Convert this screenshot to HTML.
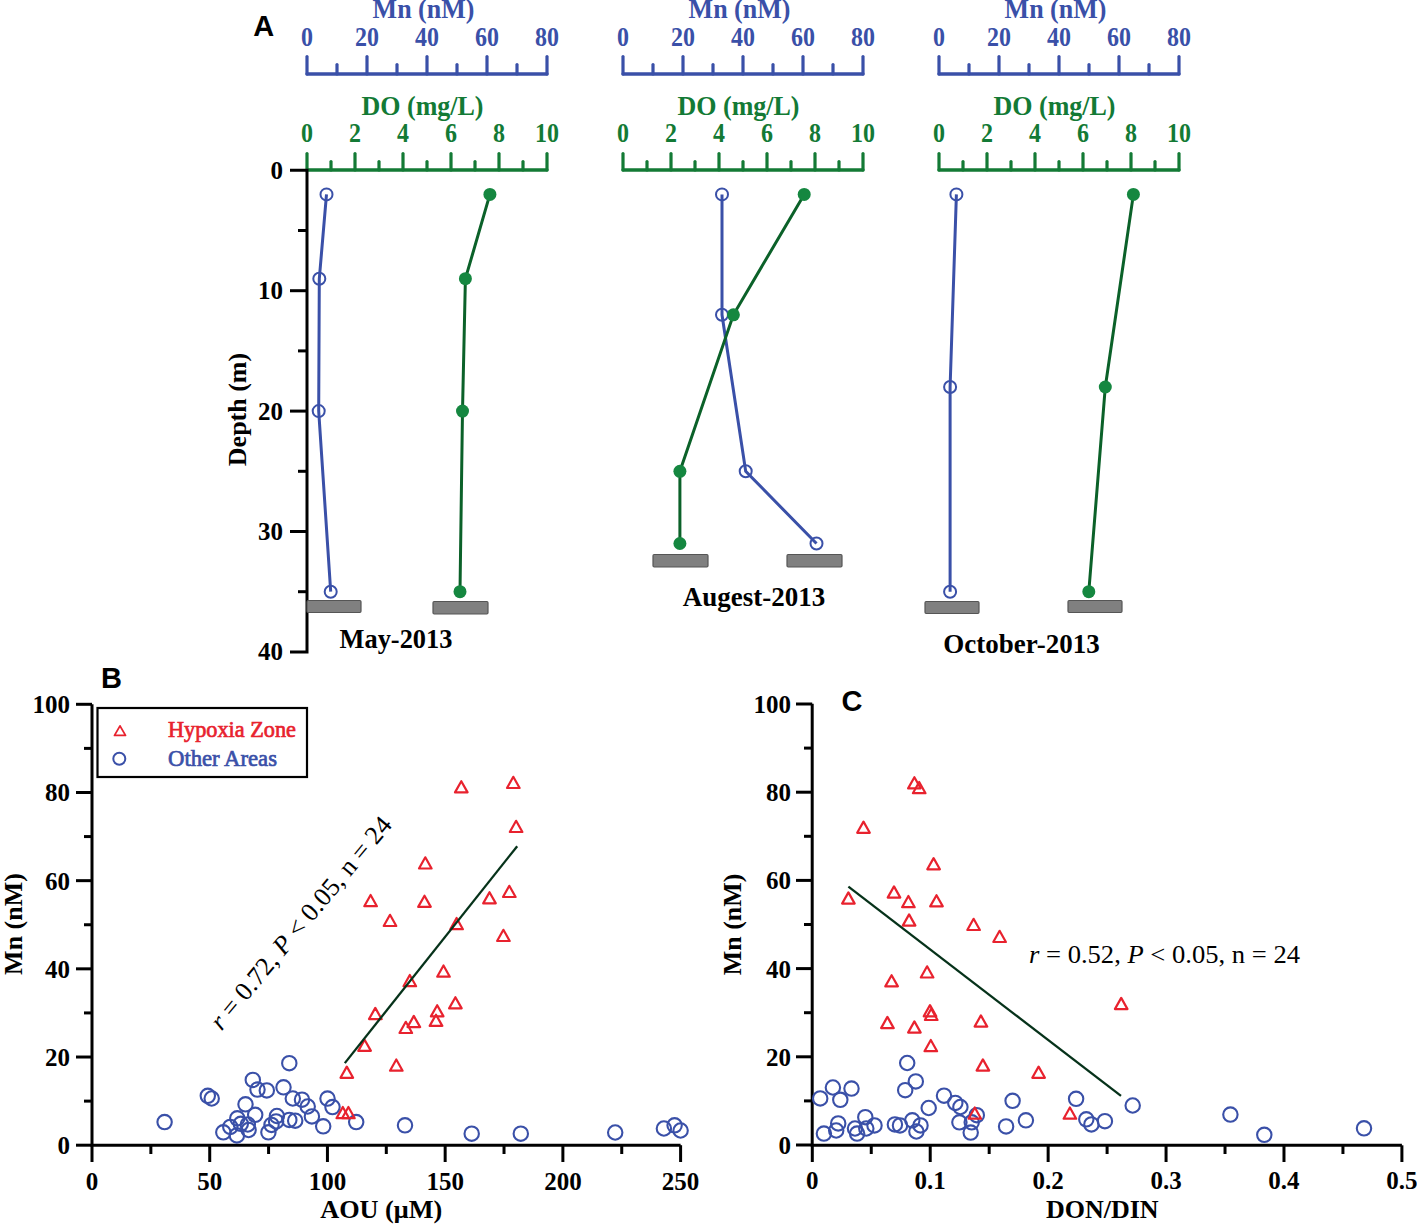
<!DOCTYPE html>
<html><head><meta charset="utf-8"><style>
html,body{margin:0;padding:0;background:#fff;}
body{width:1417px;height:1226px;overflow:hidden;}
svg{display:block;}
</style></head><body>
<svg width="1417" height="1226" viewBox="0 0 1417 1226">
<rect width="1417" height="1226" fill="#fff"/>
<path d="M307,74.0 L547,74.0" stroke="#3a50a8" stroke-width="3.3" fill="none" stroke-linecap="round"/>
<line x1="307" y1="74.0" x2="307" y2="56.5" stroke="#3a50a8" stroke-width="3.2" stroke-linecap="round"/>
<line x1="337" y1="74.0" x2="337" y2="64.5" stroke="#3a50a8" stroke-width="3.2" stroke-linecap="round"/>
<line x1="367" y1="74.0" x2="367" y2="56.5" stroke="#3a50a8" stroke-width="3.2" stroke-linecap="round"/>
<line x1="397" y1="74.0" x2="397" y2="64.5" stroke="#3a50a8" stroke-width="3.2" stroke-linecap="round"/>
<line x1="427" y1="74.0" x2="427" y2="56.5" stroke="#3a50a8" stroke-width="3.2" stroke-linecap="round"/>
<line x1="457" y1="74.0" x2="457" y2="64.5" stroke="#3a50a8" stroke-width="3.2" stroke-linecap="round"/>
<line x1="487" y1="74.0" x2="487" y2="56.5" stroke="#3a50a8" stroke-width="3.2" stroke-linecap="round"/>
<line x1="517" y1="74.0" x2="517" y2="64.5" stroke="#3a50a8" stroke-width="3.2" stroke-linecap="round"/>
<line x1="547" y1="74.0" x2="547" y2="56.5" stroke="#3a50a8" stroke-width="3.2" stroke-linecap="round"/>
<text transform="translate(307 45.8) scale(1 1.12)" x="0" y="0" font-size="24" fill="#3a50a8" text-anchor="middle" style="font-family:'Liberation Serif',serif;font-weight:bold" >0</text>
<text transform="translate(367 45.8) scale(1 1.12)" x="0" y="0" font-size="24" fill="#3a50a8" text-anchor="middle" style="font-family:'Liberation Serif',serif;font-weight:bold" >20</text>
<text transform="translate(427 45.8) scale(1 1.12)" x="0" y="0" font-size="24" fill="#3a50a8" text-anchor="middle" style="font-family:'Liberation Serif',serif;font-weight:bold" >40</text>
<text transform="translate(487 45.8) scale(1 1.12)" x="0" y="0" font-size="24" fill="#3a50a8" text-anchor="middle" style="font-family:'Liberation Serif',serif;font-weight:bold" >60</text>
<text transform="translate(547 45.8) scale(1 1.12)" x="0" y="0" font-size="24" fill="#3a50a8" text-anchor="middle" style="font-family:'Liberation Serif',serif;font-weight:bold" >80</text>
<text transform="translate(423.5 18.2) scale(1 1.07)" x="0" y="0" font-size="26" fill="#3a50a8" text-anchor="middle" style="font-family:'Liberation Serif',serif;font-weight:bold" >Mn (nM)</text>
<path d="M307,170.0 L547,170.0" stroke="#137a35" stroke-width="3.3" fill="none" stroke-linecap="round"/>
<line x1="307" y1="170.0" x2="307" y2="153.5" stroke="#137a35" stroke-width="3.2" stroke-linecap="round"/>
<line x1="331" y1="170.0" x2="331" y2="161.5" stroke="#137a35" stroke-width="3.2" stroke-linecap="round"/>
<line x1="355" y1="170.0" x2="355" y2="153.5" stroke="#137a35" stroke-width="3.2" stroke-linecap="round"/>
<line x1="379" y1="170.0" x2="379" y2="161.5" stroke="#137a35" stroke-width="3.2" stroke-linecap="round"/>
<line x1="403" y1="170.0" x2="403" y2="153.5" stroke="#137a35" stroke-width="3.2" stroke-linecap="round"/>
<line x1="427" y1="170.0" x2="427" y2="161.5" stroke="#137a35" stroke-width="3.2" stroke-linecap="round"/>
<line x1="451" y1="170.0" x2="451" y2="153.5" stroke="#137a35" stroke-width="3.2" stroke-linecap="round"/>
<line x1="475" y1="170.0" x2="475" y2="161.5" stroke="#137a35" stroke-width="3.2" stroke-linecap="round"/>
<line x1="499" y1="170.0" x2="499" y2="153.5" stroke="#137a35" stroke-width="3.2" stroke-linecap="round"/>
<line x1="523" y1="170.0" x2="523" y2="161.5" stroke="#137a35" stroke-width="3.2" stroke-linecap="round"/>
<line x1="547" y1="170.0" x2="547" y2="153.5" stroke="#137a35" stroke-width="3.2" stroke-linecap="round"/>
<text transform="translate(307 141.6) scale(1 1.12)" x="0" y="0" font-size="24" fill="#137a35" text-anchor="middle" style="font-family:'Liberation Serif',serif;font-weight:bold" >0</text>
<text transform="translate(355 141.6) scale(1 1.12)" x="0" y="0" font-size="24" fill="#137a35" text-anchor="middle" style="font-family:'Liberation Serif',serif;font-weight:bold" >2</text>
<text transform="translate(403 141.6) scale(1 1.12)" x="0" y="0" font-size="24" fill="#137a35" text-anchor="middle" style="font-family:'Liberation Serif',serif;font-weight:bold" >4</text>
<text transform="translate(451 141.6) scale(1 1.12)" x="0" y="0" font-size="24" fill="#137a35" text-anchor="middle" style="font-family:'Liberation Serif',serif;font-weight:bold" >6</text>
<text transform="translate(499 141.6) scale(1 1.12)" x="0" y="0" font-size="24" fill="#137a35" text-anchor="middle" style="font-family:'Liberation Serif',serif;font-weight:bold" >8</text>
<text transform="translate(547 141.6) scale(1 1.12)" x="0" y="0" font-size="24" fill="#137a35" text-anchor="middle" style="font-family:'Liberation Serif',serif;font-weight:bold" >10</text>
<text transform="translate(422.5 114.7) scale(1 1.07)" x="0" y="0" font-size="26" fill="#137a35" text-anchor="middle" style="font-family:'Liberation Serif',serif;font-weight:bold" >DO (mg/L)</text>
<path d="M623,74.0 L863,74.0" stroke="#3a50a8" stroke-width="3.3" fill="none" stroke-linecap="round"/>
<line x1="623" y1="74.0" x2="623" y2="56.5" stroke="#3a50a8" stroke-width="3.2" stroke-linecap="round"/>
<line x1="653" y1="74.0" x2="653" y2="64.5" stroke="#3a50a8" stroke-width="3.2" stroke-linecap="round"/>
<line x1="683" y1="74.0" x2="683" y2="56.5" stroke="#3a50a8" stroke-width="3.2" stroke-linecap="round"/>
<line x1="713" y1="74.0" x2="713" y2="64.5" stroke="#3a50a8" stroke-width="3.2" stroke-linecap="round"/>
<line x1="743" y1="74.0" x2="743" y2="56.5" stroke="#3a50a8" stroke-width="3.2" stroke-linecap="round"/>
<line x1="773" y1="74.0" x2="773" y2="64.5" stroke="#3a50a8" stroke-width="3.2" stroke-linecap="round"/>
<line x1="803" y1="74.0" x2="803" y2="56.5" stroke="#3a50a8" stroke-width="3.2" stroke-linecap="round"/>
<line x1="833" y1="74.0" x2="833" y2="64.5" stroke="#3a50a8" stroke-width="3.2" stroke-linecap="round"/>
<line x1="863" y1="74.0" x2="863" y2="56.5" stroke="#3a50a8" stroke-width="3.2" stroke-linecap="round"/>
<text transform="translate(623 45.8) scale(1 1.12)" x="0" y="0" font-size="24" fill="#3a50a8" text-anchor="middle" style="font-family:'Liberation Serif',serif;font-weight:bold" >0</text>
<text transform="translate(683 45.8) scale(1 1.12)" x="0" y="0" font-size="24" fill="#3a50a8" text-anchor="middle" style="font-family:'Liberation Serif',serif;font-weight:bold" >20</text>
<text transform="translate(743 45.8) scale(1 1.12)" x="0" y="0" font-size="24" fill="#3a50a8" text-anchor="middle" style="font-family:'Liberation Serif',serif;font-weight:bold" >40</text>
<text transform="translate(803 45.8) scale(1 1.12)" x="0" y="0" font-size="24" fill="#3a50a8" text-anchor="middle" style="font-family:'Liberation Serif',serif;font-weight:bold" >60</text>
<text transform="translate(863 45.8) scale(1 1.12)" x="0" y="0" font-size="24" fill="#3a50a8" text-anchor="middle" style="font-family:'Liberation Serif',serif;font-weight:bold" >80</text>
<text transform="translate(739.5 18.2) scale(1 1.07)" x="0" y="0" font-size="26" fill="#3a50a8" text-anchor="middle" style="font-family:'Liberation Serif',serif;font-weight:bold" >Mn (nM)</text>
<path d="M623,170.0 L863,170.0" stroke="#137a35" stroke-width="3.3" fill="none" stroke-linecap="round"/>
<line x1="623" y1="170.0" x2="623" y2="153.5" stroke="#137a35" stroke-width="3.2" stroke-linecap="round"/>
<line x1="647" y1="170.0" x2="647" y2="161.5" stroke="#137a35" stroke-width="3.2" stroke-linecap="round"/>
<line x1="671" y1="170.0" x2="671" y2="153.5" stroke="#137a35" stroke-width="3.2" stroke-linecap="round"/>
<line x1="695" y1="170.0" x2="695" y2="161.5" stroke="#137a35" stroke-width="3.2" stroke-linecap="round"/>
<line x1="719" y1="170.0" x2="719" y2="153.5" stroke="#137a35" stroke-width="3.2" stroke-linecap="round"/>
<line x1="743" y1="170.0" x2="743" y2="161.5" stroke="#137a35" stroke-width="3.2" stroke-linecap="round"/>
<line x1="767" y1="170.0" x2="767" y2="153.5" stroke="#137a35" stroke-width="3.2" stroke-linecap="round"/>
<line x1="791" y1="170.0" x2="791" y2="161.5" stroke="#137a35" stroke-width="3.2" stroke-linecap="round"/>
<line x1="815" y1="170.0" x2="815" y2="153.5" stroke="#137a35" stroke-width="3.2" stroke-linecap="round"/>
<line x1="839" y1="170.0" x2="839" y2="161.5" stroke="#137a35" stroke-width="3.2" stroke-linecap="round"/>
<line x1="863" y1="170.0" x2="863" y2="153.5" stroke="#137a35" stroke-width="3.2" stroke-linecap="round"/>
<text transform="translate(623 141.6) scale(1 1.12)" x="0" y="0" font-size="24" fill="#137a35" text-anchor="middle" style="font-family:'Liberation Serif',serif;font-weight:bold" >0</text>
<text transform="translate(671 141.6) scale(1 1.12)" x="0" y="0" font-size="24" fill="#137a35" text-anchor="middle" style="font-family:'Liberation Serif',serif;font-weight:bold" >2</text>
<text transform="translate(719 141.6) scale(1 1.12)" x="0" y="0" font-size="24" fill="#137a35" text-anchor="middle" style="font-family:'Liberation Serif',serif;font-weight:bold" >4</text>
<text transform="translate(767 141.6) scale(1 1.12)" x="0" y="0" font-size="24" fill="#137a35" text-anchor="middle" style="font-family:'Liberation Serif',serif;font-weight:bold" >6</text>
<text transform="translate(815 141.6) scale(1 1.12)" x="0" y="0" font-size="24" fill="#137a35" text-anchor="middle" style="font-family:'Liberation Serif',serif;font-weight:bold" >8</text>
<text transform="translate(863 141.6) scale(1 1.12)" x="0" y="0" font-size="24" fill="#137a35" text-anchor="middle" style="font-family:'Liberation Serif',serif;font-weight:bold" >10</text>
<text transform="translate(738.5 114.7) scale(1 1.07)" x="0" y="0" font-size="26" fill="#137a35" text-anchor="middle" style="font-family:'Liberation Serif',serif;font-weight:bold" >DO (mg/L)</text>
<path d="M939,74.0 L1179,74.0" stroke="#3a50a8" stroke-width="3.3" fill="none" stroke-linecap="round"/>
<line x1="939" y1="74.0" x2="939" y2="56.5" stroke="#3a50a8" stroke-width="3.2" stroke-linecap="round"/>
<line x1="969" y1="74.0" x2="969" y2="64.5" stroke="#3a50a8" stroke-width="3.2" stroke-linecap="round"/>
<line x1="999" y1="74.0" x2="999" y2="56.5" stroke="#3a50a8" stroke-width="3.2" stroke-linecap="round"/>
<line x1="1029" y1="74.0" x2="1029" y2="64.5" stroke="#3a50a8" stroke-width="3.2" stroke-linecap="round"/>
<line x1="1059" y1="74.0" x2="1059" y2="56.5" stroke="#3a50a8" stroke-width="3.2" stroke-linecap="round"/>
<line x1="1089" y1="74.0" x2="1089" y2="64.5" stroke="#3a50a8" stroke-width="3.2" stroke-linecap="round"/>
<line x1="1119" y1="74.0" x2="1119" y2="56.5" stroke="#3a50a8" stroke-width="3.2" stroke-linecap="round"/>
<line x1="1149" y1="74.0" x2="1149" y2="64.5" stroke="#3a50a8" stroke-width="3.2" stroke-linecap="round"/>
<line x1="1179" y1="74.0" x2="1179" y2="56.5" stroke="#3a50a8" stroke-width="3.2" stroke-linecap="round"/>
<text transform="translate(939 45.8) scale(1 1.12)" x="0" y="0" font-size="24" fill="#3a50a8" text-anchor="middle" style="font-family:'Liberation Serif',serif;font-weight:bold" >0</text>
<text transform="translate(999 45.8) scale(1 1.12)" x="0" y="0" font-size="24" fill="#3a50a8" text-anchor="middle" style="font-family:'Liberation Serif',serif;font-weight:bold" >20</text>
<text transform="translate(1059 45.8) scale(1 1.12)" x="0" y="0" font-size="24" fill="#3a50a8" text-anchor="middle" style="font-family:'Liberation Serif',serif;font-weight:bold" >40</text>
<text transform="translate(1119 45.8) scale(1 1.12)" x="0" y="0" font-size="24" fill="#3a50a8" text-anchor="middle" style="font-family:'Liberation Serif',serif;font-weight:bold" >60</text>
<text transform="translate(1179 45.8) scale(1 1.12)" x="0" y="0" font-size="24" fill="#3a50a8" text-anchor="middle" style="font-family:'Liberation Serif',serif;font-weight:bold" >80</text>
<text transform="translate(1055.5 18.2) scale(1 1.07)" x="0" y="0" font-size="26" fill="#3a50a8" text-anchor="middle" style="font-family:'Liberation Serif',serif;font-weight:bold" >Mn (nM)</text>
<path d="M939,170.0 L1179,170.0" stroke="#137a35" stroke-width="3.3" fill="none" stroke-linecap="round"/>
<line x1="939" y1="170.0" x2="939" y2="153.5" stroke="#137a35" stroke-width="3.2" stroke-linecap="round"/>
<line x1="963" y1="170.0" x2="963" y2="161.5" stroke="#137a35" stroke-width="3.2" stroke-linecap="round"/>
<line x1="987" y1="170.0" x2="987" y2="153.5" stroke="#137a35" stroke-width="3.2" stroke-linecap="round"/>
<line x1="1011" y1="170.0" x2="1011" y2="161.5" stroke="#137a35" stroke-width="3.2" stroke-linecap="round"/>
<line x1="1035" y1="170.0" x2="1035" y2="153.5" stroke="#137a35" stroke-width="3.2" stroke-linecap="round"/>
<line x1="1059" y1="170.0" x2="1059" y2="161.5" stroke="#137a35" stroke-width="3.2" stroke-linecap="round"/>
<line x1="1083" y1="170.0" x2="1083" y2="153.5" stroke="#137a35" stroke-width="3.2" stroke-linecap="round"/>
<line x1="1107" y1="170.0" x2="1107" y2="161.5" stroke="#137a35" stroke-width="3.2" stroke-linecap="round"/>
<line x1="1131" y1="170.0" x2="1131" y2="153.5" stroke="#137a35" stroke-width="3.2" stroke-linecap="round"/>
<line x1="1155" y1="170.0" x2="1155" y2="161.5" stroke="#137a35" stroke-width="3.2" stroke-linecap="round"/>
<line x1="1179" y1="170.0" x2="1179" y2="153.5" stroke="#137a35" stroke-width="3.2" stroke-linecap="round"/>
<text transform="translate(939 141.6) scale(1 1.12)" x="0" y="0" font-size="24" fill="#137a35" text-anchor="middle" style="font-family:'Liberation Serif',serif;font-weight:bold" >0</text>
<text transform="translate(987 141.6) scale(1 1.12)" x="0" y="0" font-size="24" fill="#137a35" text-anchor="middle" style="font-family:'Liberation Serif',serif;font-weight:bold" >2</text>
<text transform="translate(1035 141.6) scale(1 1.12)" x="0" y="0" font-size="24" fill="#137a35" text-anchor="middle" style="font-family:'Liberation Serif',serif;font-weight:bold" >4</text>
<text transform="translate(1083 141.6) scale(1 1.12)" x="0" y="0" font-size="24" fill="#137a35" text-anchor="middle" style="font-family:'Liberation Serif',serif;font-weight:bold" >6</text>
<text transform="translate(1131 141.6) scale(1 1.12)" x="0" y="0" font-size="24" fill="#137a35" text-anchor="middle" style="font-family:'Liberation Serif',serif;font-weight:bold" >8</text>
<text transform="translate(1179 141.6) scale(1 1.12)" x="0" y="0" font-size="24" fill="#137a35" text-anchor="middle" style="font-family:'Liberation Serif',serif;font-weight:bold" >10</text>
<text transform="translate(1054.5 114.7) scale(1 1.07)" x="0" y="0" font-size="26" fill="#137a35" text-anchor="middle" style="font-family:'Liberation Serif',serif;font-weight:bold" >DO (mg/L)</text>
<path d="M290,170.3 L307,170.3 L307,651.9 L290,651.9" stroke="#000" stroke-width="3.0" fill="none"/>
<line x1="290" y1="290.7" x2="307" y2="290.7" stroke="#000" stroke-width="3.0" stroke-linecap="butt"/>
<line x1="290" y1="411.1" x2="307" y2="411.1" stroke="#000" stroke-width="3.0" stroke-linecap="butt"/>
<line x1="290" y1="531.5" x2="307" y2="531.5" stroke="#000" stroke-width="3.0" stroke-linecap="butt"/>
<line x1="298" y1="230.5" x2="307" y2="230.5" stroke="#000" stroke-width="3.0" stroke-linecap="butt"/>
<line x1="298" y1="350.9" x2="307" y2="350.9" stroke="#000" stroke-width="3.0" stroke-linecap="butt"/>
<line x1="298" y1="471.3" x2="307" y2="471.3" stroke="#000" stroke-width="3.0" stroke-linecap="butt"/>
<line x1="298" y1="591.7" x2="307" y2="591.7" stroke="#000" stroke-width="3.0" stroke-linecap="butt"/>
<text x="283" y="178.8" font-size="25" fill="#000" text-anchor="end" style="font-family:'Liberation Serif',serif;font-weight:bold" >0</text>
<text x="283" y="299.2" font-size="25" fill="#000" text-anchor="end" style="font-family:'Liberation Serif',serif;font-weight:bold" >10</text>
<text x="283" y="419.6" font-size="25" fill="#000" text-anchor="end" style="font-family:'Liberation Serif',serif;font-weight:bold" >20</text>
<text x="283" y="540.0" font-size="25" fill="#000" text-anchor="end" style="font-family:'Liberation Serif',serif;font-weight:bold" >30</text>
<text x="283" y="660.4" font-size="25" fill="#000" text-anchor="end" style="font-family:'Liberation Serif',serif;font-weight:bold" >40</text>
<text x="246" y="409.5" font-size="26" fill="#000" text-anchor="middle" style="font-family:'Liberation Serif',serif;font-weight:bold" transform="rotate(-90 246 409.5)">Depth (m)</text>
<text x="263.7" y="35.9" font-size="29" fill="#000" text-anchor="middle" style="font-family:'Liberation Sans',sans-serif;font-weight:bold" >A</text>
<polyline points="326.5,194.4 319.3,278.7 318.7,411.1 330.7,591.7" fill="none" stroke="#3a50a8" stroke-width="3"/>
<polyline points="489.9,194.4 465.4,278.7 462.5,411.1 460.0,591.7" fill="none" stroke="#0b6129" stroke-width="3"/>
<circle cx="326.5" cy="194.4" r="6" fill="#fff" fill-opacity="0" stroke="#3a50a8" stroke-width="2"/>
<circle cx="319.3" cy="278.7" r="6" fill="#fff" fill-opacity="0" stroke="#3a50a8" stroke-width="2"/>
<circle cx="318.7" cy="411.1" r="6" fill="#fff" fill-opacity="0" stroke="#3a50a8" stroke-width="2"/>
<circle cx="330.7" cy="591.7" r="6" fill="#fff" fill-opacity="0" stroke="#3a50a8" stroke-width="2"/>
<circle cx="489.9" cy="194.4" r="6.5" fill="#158740"/>
<circle cx="465.4" cy="278.7" r="6.5" fill="#158740"/>
<circle cx="462.5" cy="411.1" r="6.5" fill="#158740"/>
<circle cx="460.0" cy="591.7" r="6.5" fill="#158740"/>
<polyline points="722.0,194.4 722.0,314.8 745.7,471.3 816.5,543.5" fill="none" stroke="#3a50a8" stroke-width="3"/>
<polyline points="804.2,194.4 733.4,314.8 679.9,471.3 679.9,543.5" fill="none" stroke="#0b6129" stroke-width="3"/>
<circle cx="722.0" cy="194.4" r="6" fill="#fff" fill-opacity="0" stroke="#3a50a8" stroke-width="2"/>
<circle cx="722.0" cy="314.8" r="6" fill="#fff" fill-opacity="0" stroke="#3a50a8" stroke-width="2"/>
<circle cx="745.7" cy="471.3" r="6" fill="#fff" fill-opacity="0" stroke="#3a50a8" stroke-width="2"/>
<circle cx="816.5" cy="543.5" r="6" fill="#fff" fill-opacity="0" stroke="#3a50a8" stroke-width="2"/>
<circle cx="804.2" cy="194.4" r="6.5" fill="#158740"/>
<circle cx="733.4" cy="314.8" r="6.5" fill="#158740"/>
<circle cx="679.9" cy="471.3" r="6.5" fill="#158740"/>
<circle cx="679.9" cy="543.5" r="6.5" fill="#158740"/>
<polyline points="956.4,194.4 950.1,387.0 950.1,591.7" fill="none" stroke="#3a50a8" stroke-width="3"/>
<polyline points="1133.4,194.4 1105.3,387.0 1088.8,591.7" fill="none" stroke="#0b6129" stroke-width="3"/>
<circle cx="956.4" cy="194.4" r="6" fill="#fff" fill-opacity="0" stroke="#3a50a8" stroke-width="2"/>
<circle cx="950.1" cy="387.0" r="6" fill="#fff" fill-opacity="0" stroke="#3a50a8" stroke-width="2"/>
<circle cx="950.1" cy="591.7" r="6" fill="#fff" fill-opacity="0" stroke="#3a50a8" stroke-width="2"/>
<circle cx="1133.4" cy="194.4" r="6.5" fill="#158740"/>
<circle cx="1105.3" cy="387.0" r="6.5" fill="#158740"/>
<circle cx="1088.8" cy="591.7" r="6.5" fill="#158740"/>
<rect x="307" y="600.5" width="54" height="12.0" rx="1.2" fill="#808080" stroke="#555" stroke-width="1.2"/>
<rect x="433" y="601.5" width="55" height="12.5" rx="1.2" fill="#808080" stroke="#555" stroke-width="1.2"/>
<rect x="653" y="554.5" width="55" height="12.5" rx="1.2" fill="#808080" stroke="#555" stroke-width="1.2"/>
<rect x="787" y="554.5" width="55" height="12.5" rx="1.2" fill="#808080" stroke="#555" stroke-width="1.2"/>
<rect x="925" y="601.5" width="54" height="12.0" rx="1.2" fill="#808080" stroke="#555" stroke-width="1.2"/>
<rect x="1068" y="600.5" width="54" height="12.0" rx="1.2" fill="#808080" stroke="#555" stroke-width="1.2"/>
<text x="396" y="647.5" font-size="26.4" fill="#000" text-anchor="middle" style="font-family:'Liberation Serif',serif;font-weight:bold" >May-2013</text>
<text x="754" y="605.5" font-size="27" fill="#000" text-anchor="middle" style="font-family:'Liberation Serif',serif;font-weight:bold" >Augest-2013</text>
<text x="1021.5" y="652.5" font-size="27" fill="#000" text-anchor="middle" style="font-family:'Liberation Serif',serif;font-weight:bold" >October-2013</text>
<path d="M92,704.3 L92,1145.2 L680.6,1145.2" stroke="#000" stroke-width="3.0" fill="none"/>
<line x1="76" y1="1145.2" x2="92" y2="1145.2" stroke="#000" stroke-width="3.0" stroke-linecap="butt"/>
<text x="70" y="1154.2" font-size="25" fill="#000" text-anchor="end" style="font-family:'Liberation Serif',serif;font-weight:bold" >0</text>
<line x1="76" y1="1057.02" x2="92" y2="1057.02" stroke="#000" stroke-width="3.0" stroke-linecap="butt"/>
<text x="70" y="1066.02" font-size="25" fill="#000" text-anchor="end" style="font-family:'Liberation Serif',serif;font-weight:bold" >20</text>
<line x1="76" y1="968.84" x2="92" y2="968.84" stroke="#000" stroke-width="3.0" stroke-linecap="butt"/>
<text x="70" y="977.84" font-size="25" fill="#000" text-anchor="end" style="font-family:'Liberation Serif',serif;font-weight:bold" >40</text>
<line x1="76" y1="880.6600000000001" x2="92" y2="880.6600000000001" stroke="#000" stroke-width="3.0" stroke-linecap="butt"/>
<text x="70" y="889.6600000000001" font-size="25" fill="#000" text-anchor="end" style="font-family:'Liberation Serif',serif;font-weight:bold" >60</text>
<line x1="76" y1="792.48" x2="92" y2="792.48" stroke="#000" stroke-width="3.0" stroke-linecap="butt"/>
<text x="70" y="801.48" font-size="25" fill="#000" text-anchor="end" style="font-family:'Liberation Serif',serif;font-weight:bold" >80</text>
<line x1="76" y1="704.3000000000001" x2="92" y2="704.3000000000001" stroke="#000" stroke-width="3.0" stroke-linecap="butt"/>
<text x="70" y="713.3000000000001" font-size="25" fill="#000" text-anchor="end" style="font-family:'Liberation Serif',serif;font-weight:bold" >100</text>
<line x1="84" y1="1101.1100000000001" x2="92" y2="1101.1100000000001" stroke="#000" stroke-width="3.0" stroke-linecap="butt"/>
<line x1="84" y1="1012.9300000000001" x2="92" y2="1012.9300000000001" stroke="#000" stroke-width="3.0" stroke-linecap="butt"/>
<line x1="84" y1="924.75" x2="92" y2="924.75" stroke="#000" stroke-width="3.0" stroke-linecap="butt"/>
<line x1="84" y1="836.57" x2="92" y2="836.57" stroke="#000" stroke-width="3.0" stroke-linecap="butt"/>
<line x1="84" y1="748.3900000000001" x2="92" y2="748.3900000000001" stroke="#000" stroke-width="3.0" stroke-linecap="butt"/>
<line x1="92.0" y1="1145.2" x2="92.0" y2="1162" stroke="#000" stroke-width="3.0" stroke-linecap="butt"/>
<text x="92.0" y="1190" font-size="25" fill="#000" text-anchor="middle" style="font-family:'Liberation Serif',serif;font-weight:bold" >0</text>
<line x1="209.72" y1="1145.2" x2="209.72" y2="1162" stroke="#000" stroke-width="3.0" stroke-linecap="butt"/>
<text x="209.72" y="1190" font-size="25" fill="#000" text-anchor="middle" style="font-family:'Liberation Serif',serif;font-weight:bold" >50</text>
<line x1="327.44" y1="1145.2" x2="327.44" y2="1162" stroke="#000" stroke-width="3.0" stroke-linecap="butt"/>
<text x="327.44" y="1190" font-size="25" fill="#000" text-anchor="middle" style="font-family:'Liberation Serif',serif;font-weight:bold" >100</text>
<line x1="445.16" y1="1145.2" x2="445.16" y2="1162" stroke="#000" stroke-width="3.0" stroke-linecap="butt"/>
<text x="445.16" y="1190" font-size="25" fill="#000" text-anchor="middle" style="font-family:'Liberation Serif',serif;font-weight:bold" >150</text>
<line x1="562.88" y1="1145.2" x2="562.88" y2="1162" stroke="#000" stroke-width="3.0" stroke-linecap="butt"/>
<text x="562.88" y="1190" font-size="25" fill="#000" text-anchor="middle" style="font-family:'Liberation Serif',serif;font-weight:bold" >200</text>
<line x1="680.6" y1="1145.2" x2="680.6" y2="1162" stroke="#000" stroke-width="3.0" stroke-linecap="butt"/>
<text x="680.6" y="1190" font-size="25" fill="#000" text-anchor="middle" style="font-family:'Liberation Serif',serif;font-weight:bold" >250</text>
<line x1="150.86" y1="1145.2" x2="150.86" y2="1154" stroke="#000" stroke-width="3.0" stroke-linecap="butt"/>
<line x1="268.58000000000004" y1="1145.2" x2="268.58000000000004" y2="1154" stroke="#000" stroke-width="3.0" stroke-linecap="butt"/>
<line x1="386.3" y1="1145.2" x2="386.3" y2="1154" stroke="#000" stroke-width="3.0" stroke-linecap="butt"/>
<line x1="504.02" y1="1145.2" x2="504.02" y2="1154" stroke="#000" stroke-width="3.0" stroke-linecap="butt"/>
<line x1="621.74" y1="1145.2" x2="621.74" y2="1154" stroke="#000" stroke-width="3.0" stroke-linecap="butt"/>
<text x="381.2" y="1218" font-size="26" fill="#000" text-anchor="middle" style="font-family:'Liberation Serif',serif;font-weight:bold" textLength="122" lengthAdjust="spacingAndGlyphs">AOU (&#956;M)</text>
<text x="21.5" y="924" font-size="26" fill="#000" text-anchor="middle" style="font-family:'Liberation Serif',serif;font-weight:bold" transform="rotate(-90 21.5 924)">Mn (nM)</text>
<text x="111.6" y="688" font-size="29" fill="#000" text-anchor="middle" style="font-family:'Liberation Sans',sans-serif;font-weight:bold" >B</text>
<rect x="97.5" y="708" width="209.5" height="69" fill="none" stroke="#000" stroke-width="2.2"/>
<path d="M114.5,735.4 L120.0,725.9 L125.5,735.4 Z" fill="none" stroke="#e8222e" stroke-width="1.8" stroke-linejoin="round"/>
<circle cx="119.3" cy="758.8" r="6" fill="none" stroke="#3a50a8" stroke-width="2"/>
<text x="168" y="737" font-size="23" fill="#e8222e" text-anchor="start" style="font-family:'Liberation Serif',serif" textLength="128" lengthAdjust="spacingAndGlyphs" stroke="#e8222e" stroke-width="0.7">Hypoxia Zone</text>
<text x="168" y="766" font-size="23" fill="#3a50a8" text-anchor="start" style="font-family:'Liberation Serif',serif" textLength="109" lengthAdjust="spacingAndGlyphs" stroke="#3a50a8" stroke-width="0.7">Other Areas</text>
<circle cx="164.6" cy="1122.1" r="7.2" fill="none" stroke="#3a50a8" stroke-width="2.1"/>
<circle cx="207.8" cy="1095.8" r="7.2" fill="none" stroke="#3a50a8" stroke-width="2.1"/>
<circle cx="211.7" cy="1098.5" r="7.2" fill="none" stroke="#3a50a8" stroke-width="2.1"/>
<circle cx="252.8" cy="1079.9" r="7.2" fill="none" stroke="#3a50a8" stroke-width="2.1"/>
<circle cx="257.5" cy="1089.6" r="7.2" fill="none" stroke="#3a50a8" stroke-width="2.1"/>
<circle cx="266.8" cy="1090.4" r="7.2" fill="none" stroke="#3a50a8" stroke-width="2.1"/>
<circle cx="283.5" cy="1087.3" r="7.2" fill="none" stroke="#3a50a8" stroke-width="2.1"/>
<circle cx="289.3" cy="1063.2" r="7.2" fill="none" stroke="#3a50a8" stroke-width="2.1"/>
<circle cx="292.8" cy="1098.5" r="7.2" fill="none" stroke="#3a50a8" stroke-width="2.1"/>
<circle cx="302.0" cy="1099.7" r="7.2" fill="none" stroke="#3a50a8" stroke-width="2.1"/>
<circle cx="245.5" cy="1104.3" r="7.2" fill="none" stroke="#3a50a8" stroke-width="2.1"/>
<circle cx="255.2" cy="1114.8" r="7.2" fill="none" stroke="#3a50a8" stroke-width="2.1"/>
<circle cx="237.3" cy="1118.3" r="7.2" fill="none" stroke="#3a50a8" stroke-width="2.1"/>
<circle cx="240.8" cy="1123.8" r="7.2" fill="none" stroke="#3a50a8" stroke-width="2.1"/>
<circle cx="247.8" cy="1124.5" r="7.2" fill="none" stroke="#3a50a8" stroke-width="2.1"/>
<circle cx="248.6" cy="1130.0" r="7.2" fill="none" stroke="#3a50a8" stroke-width="2.1"/>
<circle cx="223.3" cy="1132.3" r="7.2" fill="none" stroke="#3a50a8" stroke-width="2.1"/>
<circle cx="236.9" cy="1135.4" r="7.2" fill="none" stroke="#3a50a8" stroke-width="2.1"/>
<circle cx="230.3" cy="1126.9" r="7.2" fill="none" stroke="#3a50a8" stroke-width="2.1"/>
<circle cx="276.9" cy="1116.0" r="7.2" fill="none" stroke="#3a50a8" stroke-width="2.1"/>
<circle cx="276.1" cy="1121.4" r="7.2" fill="none" stroke="#3a50a8" stroke-width="2.1"/>
<circle cx="271.5" cy="1124.9" r="7.2" fill="none" stroke="#3a50a8" stroke-width="2.1"/>
<circle cx="268.4" cy="1132.3" r="7.2" fill="none" stroke="#3a50a8" stroke-width="2.1"/>
<circle cx="289.3" cy="1119.9" r="7.2" fill="none" stroke="#3a50a8" stroke-width="2.1"/>
<circle cx="295.2" cy="1120.7" r="7.2" fill="none" stroke="#3a50a8" stroke-width="2.1"/>
<circle cx="307.7" cy="1106.5" r="7.2" fill="none" stroke="#3a50a8" stroke-width="2.1"/>
<circle cx="311.9" cy="1116.4" r="7.2" fill="none" stroke="#3a50a8" stroke-width="2.1"/>
<circle cx="323.2" cy="1126.3" r="7.2" fill="none" stroke="#3a50a8" stroke-width="2.1"/>
<circle cx="327.5" cy="1098.6" r="7.2" fill="none" stroke="#3a50a8" stroke-width="2.1"/>
<circle cx="332.5" cy="1107.1" r="7.2" fill="none" stroke="#3a50a8" stroke-width="2.1"/>
<circle cx="356.2" cy="1122.1" r="7.2" fill="none" stroke="#3a50a8" stroke-width="2.1"/>
<circle cx="405.0" cy="1125.3" r="7.2" fill="none" stroke="#3a50a8" stroke-width="2.1"/>
<circle cx="471.7" cy="1133.7" r="7.2" fill="none" stroke="#3a50a8" stroke-width="2.1"/>
<circle cx="520.8" cy="1133.7" r="7.2" fill="none" stroke="#3a50a8" stroke-width="2.1"/>
<circle cx="615.2" cy="1132.5" r="7.2" fill="none" stroke="#3a50a8" stroke-width="2.1"/>
<circle cx="663.9" cy="1128.5" r="7.2" fill="none" stroke="#3a50a8" stroke-width="2.1"/>
<circle cx="674.6" cy="1125.3" r="7.2" fill="none" stroke="#3a50a8" stroke-width="2.1"/>
<circle cx="680.6" cy="1130.5" r="7.2" fill="none" stroke="#3a50a8" stroke-width="2.1"/>
<path d="M455.0,792.4 L461.3,781.2 L467.6,792.4 Z" fill="none" stroke="#e8222e" stroke-width="2.2" stroke-linejoin="round"/>
<path d="M507.0,788.0 L513.3,776.8 L519.6,788.0 Z" fill="none" stroke="#e8222e" stroke-width="2.2" stroke-linejoin="round"/>
<path d="M509.8,832.0 L516.1,820.8 L522.4,832.0 Z" fill="none" stroke="#e8222e" stroke-width="2.2" stroke-linejoin="round"/>
<path d="M419.0,868.5 L425.3,857.3 L431.6,868.5 Z" fill="none" stroke="#e8222e" stroke-width="2.2" stroke-linejoin="round"/>
<path d="M364.3,906.2 L370.6,895.0 L376.9,906.2 Z" fill="none" stroke="#e8222e" stroke-width="2.2" stroke-linejoin="round"/>
<path d="M418.2,906.9 L424.5,895.7 L430.8,906.9 Z" fill="none" stroke="#e8222e" stroke-width="2.2" stroke-linejoin="round"/>
<path d="M383.7,926.0 L390.0,914.8 L396.3,926.0 Z" fill="none" stroke="#e8222e" stroke-width="2.2" stroke-linejoin="round"/>
<path d="M483.2,903.4 L489.5,892.2 L495.8,903.4 Z" fill="none" stroke="#e8222e" stroke-width="2.2" stroke-linejoin="round"/>
<path d="M503.0,897.0 L509.3,885.8 L515.6,897.0 Z" fill="none" stroke="#e8222e" stroke-width="2.2" stroke-linejoin="round"/>
<path d="M450.3,929.2 L456.6,918.0 L462.9,929.2 Z" fill="none" stroke="#e8222e" stroke-width="2.2" stroke-linejoin="round"/>
<path d="M497.1,941.0 L503.4,929.8 L509.7,941.0 Z" fill="none" stroke="#e8222e" stroke-width="2.2" stroke-linejoin="round"/>
<path d="M437.2,976.7 L443.5,965.5 L449.8,976.7 Z" fill="none" stroke="#e8222e" stroke-width="2.2" stroke-linejoin="round"/>
<path d="M403.5,986.2 L409.8,975.0 L416.1,986.2 Z" fill="none" stroke="#e8222e" stroke-width="2.2" stroke-linejoin="round"/>
<path d="M369.0,1019.1 L375.3,1007.9 L381.6,1019.1 Z" fill="none" stroke="#e8222e" stroke-width="2.2" stroke-linejoin="round"/>
<path d="M449.1,1008.4 L455.4,997.2 L461.7,1008.4 Z" fill="none" stroke="#e8222e" stroke-width="2.2" stroke-linejoin="round"/>
<path d="M430.9,1016.4 L437.2,1005.2 L443.5,1016.4 Z" fill="none" stroke="#e8222e" stroke-width="2.2" stroke-linejoin="round"/>
<path d="M429.7,1025.9 L436.0,1014.7 L442.3,1025.9 Z" fill="none" stroke="#e8222e" stroke-width="2.2" stroke-linejoin="round"/>
<path d="M407.5,1027.1 L413.8,1015.9 L420.1,1027.1 Z" fill="none" stroke="#e8222e" stroke-width="2.2" stroke-linejoin="round"/>
<path d="M399.5,1033.0 L405.8,1021.8 L412.1,1033.0 Z" fill="none" stroke="#e8222e" stroke-width="2.2" stroke-linejoin="round"/>
<path d="M358.3,1050.9 L364.6,1039.7 L370.9,1050.9 Z" fill="none" stroke="#e8222e" stroke-width="2.2" stroke-linejoin="round"/>
<path d="M390.0,1070.7 L396.3,1059.5 L402.6,1070.7 Z" fill="none" stroke="#e8222e" stroke-width="2.2" stroke-linejoin="round"/>
<path d="M340.5,1077.8 L346.8,1066.6 L353.1,1077.8 Z" fill="none" stroke="#e8222e" stroke-width="2.2" stroke-linejoin="round"/>
<path d="M336.5,1118.2 L342.8,1107.0 L349.1,1118.2 Z" fill="none" stroke="#e8222e" stroke-width="2.2" stroke-linejoin="round"/>
<path d="M342.1,1118.2 L348.4,1107.0 L354.7,1118.2 Z" fill="none" stroke="#e8222e" stroke-width="2.2" stroke-linejoin="round"/>
<line x1="344.8" y1="1063.1" x2="517.2" y2="846.2" stroke="#06321a" stroke-width="2.3" stroke-linecap="butt"/>
<text x="221.6" y="1031.4" font-size="26" fill="#000" style="font-family:'Liberation Serif',serif" transform="rotate(-50.2 221.6 1031.4)" textLength="268" lengthAdjust="spacingAndGlyphs"><tspan font-style="italic">r</tspan> = 0.72, <tspan font-style="italic">P</tspan> &lt; 0.05, n = 24</text>
<path d="M812.2,703.8 L812.2,1145.3 L1401.9,1145.3" stroke="#000" stroke-width="3.0" fill="none"/>
<line x1="796" y1="1145.0" x2="812.2" y2="1145.0" stroke="#000" stroke-width="3.0" stroke-linecap="butt"/>
<text x="791" y="1154.0" font-size="25" fill="#000" text-anchor="end" style="font-family:'Liberation Serif',serif;font-weight:bold" >0</text>
<line x1="796" y1="1056.8" x2="812.2" y2="1056.8" stroke="#000" stroke-width="3.0" stroke-linecap="butt"/>
<text x="791" y="1065.8" font-size="25" fill="#000" text-anchor="end" style="font-family:'Liberation Serif',serif;font-weight:bold" >20</text>
<line x1="796" y1="968.6" x2="812.2" y2="968.6" stroke="#000" stroke-width="3.0" stroke-linecap="butt"/>
<text x="791" y="977.6" font-size="25" fill="#000" text-anchor="end" style="font-family:'Liberation Serif',serif;font-weight:bold" >40</text>
<line x1="796" y1="880.4" x2="812.2" y2="880.4" stroke="#000" stroke-width="3.0" stroke-linecap="butt"/>
<text x="791" y="889.4" font-size="25" fill="#000" text-anchor="end" style="font-family:'Liberation Serif',serif;font-weight:bold" >60</text>
<line x1="796" y1="792.2" x2="812.2" y2="792.2" stroke="#000" stroke-width="3.0" stroke-linecap="butt"/>
<text x="791" y="801.2" font-size="25" fill="#000" text-anchor="end" style="font-family:'Liberation Serif',serif;font-weight:bold" >80</text>
<line x1="796" y1="704.0" x2="812.2" y2="704.0" stroke="#000" stroke-width="3.0" stroke-linecap="butt"/>
<text x="791" y="713.0" font-size="25" fill="#000" text-anchor="end" style="font-family:'Liberation Serif',serif;font-weight:bold" >100</text>
<line x1="804" y1="1100.9" x2="812.2" y2="1100.9" stroke="#000" stroke-width="3.0" stroke-linecap="butt"/>
<line x1="804" y1="1012.7" x2="812.2" y2="1012.7" stroke="#000" stroke-width="3.0" stroke-linecap="butt"/>
<line x1="804" y1="924.5" x2="812.2" y2="924.5" stroke="#000" stroke-width="3.0" stroke-linecap="butt"/>
<line x1="804" y1="836.3" x2="812.2" y2="836.3" stroke="#000" stroke-width="3.0" stroke-linecap="butt"/>
<line x1="804" y1="748.0999999999999" x2="812.2" y2="748.0999999999999" stroke="#000" stroke-width="3.0" stroke-linecap="butt"/>
<line x1="812.3" y1="1145.3" x2="812.3" y2="1162" stroke="#000" stroke-width="3.0" stroke-linecap="butt"/>
<text x="812.3" y="1188.5" font-size="25" fill="#000" text-anchor="middle" style="font-family:'Liberation Serif',serif;font-weight:bold" >0</text>
<line x1="930.22" y1="1145.3" x2="930.22" y2="1162" stroke="#000" stroke-width="3.0" stroke-linecap="butt"/>
<text x="930.22" y="1188.5" font-size="25" fill="#000" text-anchor="middle" style="font-family:'Liberation Serif',serif;font-weight:bold" >0.1</text>
<line x1="1048.1399999999999" y1="1145.3" x2="1048.1399999999999" y2="1162" stroke="#000" stroke-width="3.0" stroke-linecap="butt"/>
<text x="1048.1399999999999" y="1188.5" font-size="25" fill="#000" text-anchor="middle" style="font-family:'Liberation Serif',serif;font-weight:bold" >0.2</text>
<line x1="1166.06" y1="1145.3" x2="1166.06" y2="1162" stroke="#000" stroke-width="3.0" stroke-linecap="butt"/>
<text x="1166.06" y="1188.5" font-size="25" fill="#000" text-anchor="middle" style="font-family:'Liberation Serif',serif;font-weight:bold" >0.3</text>
<line x1="1283.98" y1="1145.3" x2="1283.98" y2="1162" stroke="#000" stroke-width="3.0" stroke-linecap="butt"/>
<text x="1283.98" y="1188.5" font-size="25" fill="#000" text-anchor="middle" style="font-family:'Liberation Serif',serif;font-weight:bold" >0.4</text>
<line x1="1401.9" y1="1145.3" x2="1401.9" y2="1162" stroke="#000" stroke-width="3.0" stroke-linecap="butt"/>
<text x="1401.9" y="1188.5" font-size="25" fill="#000" text-anchor="middle" style="font-family:'Liberation Serif',serif;font-weight:bold" >0.5</text>
<line x1="871.26" y1="1145" x2="871.26" y2="1154" stroke="#000" stroke-width="3.0" stroke-linecap="butt"/>
<line x1="989.18" y1="1145" x2="989.18" y2="1154" stroke="#000" stroke-width="3.0" stroke-linecap="butt"/>
<line x1="1107.1" y1="1145" x2="1107.1" y2="1154" stroke="#000" stroke-width="3.0" stroke-linecap="butt"/>
<line x1="1225.02" y1="1145" x2="1225.02" y2="1154" stroke="#000" stroke-width="3.0" stroke-linecap="butt"/>
<line x1="1342.94" y1="1145" x2="1342.94" y2="1154" stroke="#000" stroke-width="3.0" stroke-linecap="butt"/>
<text x="1102.3" y="1217.5" font-size="26" fill="#000" text-anchor="middle" style="font-family:'Liberation Serif',serif;font-weight:bold" >DON/DIN</text>
<text x="741.2" y="924.4" font-size="26" fill="#000" text-anchor="middle" style="font-family:'Liberation Serif',serif;font-weight:bold" transform="rotate(-90 741.2 924.4)">Mn (nM)</text>
<text x="852" y="710.7" font-size="29" fill="#000" text-anchor="middle" style="font-family:'Liberation Sans',sans-serif;font-weight:bold" >C</text>
<circle cx="820.2" cy="1098.4" r="7.2" fill="none" stroke="#3a50a8" stroke-width="2.1"/>
<circle cx="832.9" cy="1087.5" r="7.2" fill="none" stroke="#3a50a8" stroke-width="2.1"/>
<circle cx="840.3" cy="1099.8" r="7.2" fill="none" stroke="#3a50a8" stroke-width="2.1"/>
<circle cx="851.5" cy="1088.6" r="7.2" fill="none" stroke="#3a50a8" stroke-width="2.1"/>
<circle cx="907.2" cy="1063.0" r="7.2" fill="none" stroke="#3a50a8" stroke-width="2.1"/>
<circle cx="915.8" cy="1081.4" r="7.2" fill="none" stroke="#3a50a8" stroke-width="2.1"/>
<circle cx="905.2" cy="1090.2" r="7.2" fill="none" stroke="#3a50a8" stroke-width="2.1"/>
<circle cx="823.9" cy="1133.6" r="7.2" fill="none" stroke="#3a50a8" stroke-width="2.1"/>
<circle cx="836.2" cy="1130.5" r="7.2" fill="none" stroke="#3a50a8" stroke-width="2.1"/>
<circle cx="838.2" cy="1123.4" r="7.2" fill="none" stroke="#3a50a8" stroke-width="2.1"/>
<circle cx="855.0" cy="1128.5" r="7.2" fill="none" stroke="#3a50a8" stroke-width="2.1"/>
<circle cx="857.1" cy="1133.6" r="7.2" fill="none" stroke="#3a50a8" stroke-width="2.1"/>
<circle cx="865.3" cy="1117.2" r="7.2" fill="none" stroke="#3a50a8" stroke-width="2.1"/>
<circle cx="866.3" cy="1128.5" r="7.2" fill="none" stroke="#3a50a8" stroke-width="2.1"/>
<circle cx="874.5" cy="1125.4" r="7.2" fill="none" stroke="#3a50a8" stroke-width="2.1"/>
<circle cx="894.9" cy="1124.4" r="7.2" fill="none" stroke="#3a50a8" stroke-width="2.1"/>
<circle cx="900.0" cy="1125.4" r="7.2" fill="none" stroke="#3a50a8" stroke-width="2.1"/>
<circle cx="912.3" cy="1120.3" r="7.2" fill="none" stroke="#3a50a8" stroke-width="2.1"/>
<circle cx="920.5" cy="1125.4" r="7.2" fill="none" stroke="#3a50a8" stroke-width="2.1"/>
<circle cx="916.4" cy="1131.5" r="7.2" fill="none" stroke="#3a50a8" stroke-width="2.1"/>
<circle cx="928.7" cy="1108.0" r="7.2" fill="none" stroke="#3a50a8" stroke-width="2.1"/>
<circle cx="944.0" cy="1095.7" r="7.2" fill="none" stroke="#3a50a8" stroke-width="2.1"/>
<circle cx="955.3" cy="1102.9" r="7.2" fill="none" stroke="#3a50a8" stroke-width="2.1"/>
<circle cx="960.4" cy="1107.0" r="7.2" fill="none" stroke="#3a50a8" stroke-width="2.1"/>
<circle cx="959.4" cy="1122.3" r="7.2" fill="none" stroke="#3a50a8" stroke-width="2.1"/>
<circle cx="971.7" cy="1122.3" r="7.2" fill="none" stroke="#3a50a8" stroke-width="2.1"/>
<circle cx="976.8" cy="1115.2" r="7.2" fill="none" stroke="#3a50a8" stroke-width="2.1"/>
<circle cx="970.7" cy="1132.6" r="7.2" fill="none" stroke="#3a50a8" stroke-width="2.1"/>
<circle cx="1012.6" cy="1100.8" r="7.2" fill="none" stroke="#3a50a8" stroke-width="2.1"/>
<circle cx="1006.1" cy="1126.4" r="7.2" fill="none" stroke="#3a50a8" stroke-width="2.1"/>
<circle cx="1025.9" cy="1120.3" r="7.2" fill="none" stroke="#3a50a8" stroke-width="2.1"/>
<circle cx="1076.1" cy="1098.8" r="7.2" fill="none" stroke="#3a50a8" stroke-width="2.1"/>
<circle cx="1086.3" cy="1119.3" r="7.2" fill="none" stroke="#3a50a8" stroke-width="2.1"/>
<circle cx="1091.4" cy="1124.4" r="7.2" fill="none" stroke="#3a50a8" stroke-width="2.1"/>
<circle cx="1132.7" cy="1105.5" r="7.2" fill="none" stroke="#3a50a8" stroke-width="2.1"/>
<circle cx="1230.4" cy="1114.6" r="7.2" fill="none" stroke="#3a50a8" stroke-width="2.1"/>
<circle cx="1264.3" cy="1134.8" r="7.2" fill="none" stroke="#3a50a8" stroke-width="2.1"/>
<circle cx="1364.0" cy="1128.3" r="7.2" fill="none" stroke="#3a50a8" stroke-width="2.1"/>
<circle cx="1104.9" cy="1121.2" r="7.2" fill="none" stroke="#3a50a8" stroke-width="2.1"/>
<path d="M908.1,788.4 L914.4,777.2 L920.7,788.4 Z" fill="none" stroke="#e8222e" stroke-width="2.2" stroke-linejoin="round"/>
<path d="M912.9,793.2 L919.2,782.0 L925.5,793.2 Z" fill="none" stroke="#e8222e" stroke-width="2.2" stroke-linejoin="round"/>
<path d="M857.2,832.8 L863.5,821.6 L869.8,832.8 Z" fill="none" stroke="#e8222e" stroke-width="2.2" stroke-linejoin="round"/>
<path d="M927.3,869.3 L933.6,858.1 L939.9,869.3 Z" fill="none" stroke="#e8222e" stroke-width="2.2" stroke-linejoin="round"/>
<path d="M842.1,903.6 L848.4,892.4 L854.7,903.6 Z" fill="none" stroke="#e8222e" stroke-width="2.2" stroke-linejoin="round"/>
<path d="M887.7,897.6 L894.0,886.4 L900.3,897.6 Z" fill="none" stroke="#e8222e" stroke-width="2.2" stroke-linejoin="round"/>
<path d="M902.1,907.2 L908.4,896.0 L914.7,907.2 Z" fill="none" stroke="#e8222e" stroke-width="2.2" stroke-linejoin="round"/>
<path d="M930.2,906.4 L936.5,895.2 L942.8,906.4 Z" fill="none" stroke="#e8222e" stroke-width="2.2" stroke-linejoin="round"/>
<path d="M902.8,925.6 L909.1,914.4 L915.4,925.6 Z" fill="none" stroke="#e8222e" stroke-width="2.2" stroke-linejoin="round"/>
<path d="M967.3,930.0 L973.6,918.8 L979.9,930.0 Z" fill="none" stroke="#e8222e" stroke-width="2.2" stroke-linejoin="round"/>
<path d="M993.3,942.0 L999.6,930.8 L1005.9,942.0 Z" fill="none" stroke="#e8222e" stroke-width="2.2" stroke-linejoin="round"/>
<path d="M920.8,977.5 L927.1,966.3 L933.4,977.5 Z" fill="none" stroke="#e8222e" stroke-width="2.2" stroke-linejoin="round"/>
<path d="M885.3,986.4 L891.6,975.2 L897.9,986.4 Z" fill="none" stroke="#e8222e" stroke-width="2.2" stroke-linejoin="round"/>
<path d="M1114.9,1009.1 L1121.2,997.9 L1127.5,1009.1 Z" fill="none" stroke="#e8222e" stroke-width="2.2" stroke-linejoin="round"/>
<path d="M923.7,1016.3 L930.0,1005.1 L936.3,1016.3 Z" fill="none" stroke="#e8222e" stroke-width="2.2" stroke-linejoin="round"/>
<path d="M924.9,1020.0 L931.2,1008.8 L937.5,1020.0 Z" fill="none" stroke="#e8222e" stroke-width="2.2" stroke-linejoin="round"/>
<path d="M881.1,1028.1 L887.4,1016.9 L893.7,1028.1 Z" fill="none" stroke="#e8222e" stroke-width="2.2" stroke-linejoin="round"/>
<path d="M908.1,1032.6 L914.4,1021.4 L920.7,1032.6 Z" fill="none" stroke="#e8222e" stroke-width="2.2" stroke-linejoin="round"/>
<path d="M974.6,1026.6 L980.9,1015.4 L987.2,1026.6 Z" fill="none" stroke="#e8222e" stroke-width="2.2" stroke-linejoin="round"/>
<path d="M924.5,1051.2 L930.8,1040.0 L937.1,1051.2 Z" fill="none" stroke="#e8222e" stroke-width="2.2" stroke-linejoin="round"/>
<path d="M976.6,1070.6 L982.9,1059.4 L989.2,1070.6 Z" fill="none" stroke="#e8222e" stroke-width="2.2" stroke-linejoin="round"/>
<path d="M1032.3,1077.8 L1038.6,1066.6 L1044.9,1077.8 Z" fill="none" stroke="#e8222e" stroke-width="2.2" stroke-linejoin="round"/>
<path d="M1063.6,1118.7 L1069.9,1107.5 L1076.2,1118.7 Z" fill="none" stroke="#e8222e" stroke-width="2.2" stroke-linejoin="round"/>
<path d="M968.5,1118.7 L974.8,1107.5 L981.1,1118.7 Z" fill="none" stroke="#e8222e" stroke-width="2.2" stroke-linejoin="round"/>
<line x1="848.4" y1="886.7" x2="1121" y2="1095.9" stroke="#06321a" stroke-width="2.3" stroke-linecap="butt"/>
<text x="1029" y="963.3" font-size="26" fill="#000" style="font-family:'Liberation Serif',serif" textLength="271" lengthAdjust="spacingAndGlyphs"><tspan font-style="italic">r</tspan> = 0.52, <tspan font-style="italic">P</tspan> &lt; 0.05, n = 24</text>
</svg>
</body></html>
